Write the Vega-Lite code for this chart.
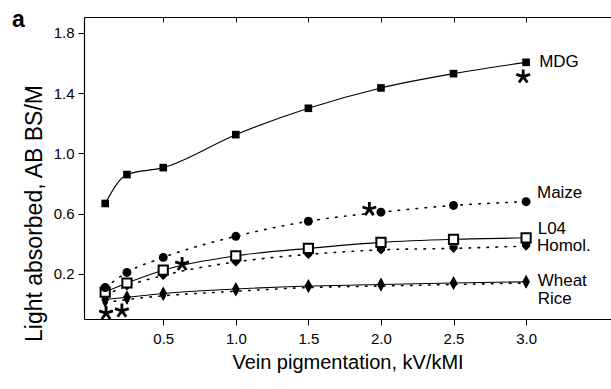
{
  "$schema": "https://vega.github.io/schema/vega-lite/v6.json",
  "width": 527,
  "height": 302,
  "autosize": {"type": "none"},
  "padding": {"left": 84, "top": 17, "right": 0, "bottom": 70},
  "background": "white",
  "config": {
    "view": {"stroke": null},
    "font": "Liberation Sans",
    "axis": {"grid": false, "domainColor": "black", "tickColor": "black", "labelColor": "black", "titleColor": "black", "labelFont": "Liberation Sans", "titleFont": "Liberation Sans", "titleFontWeight": "normal", "domainWidth": 1.2, "tickWidth": 1}
  },
  "title": {"text": "a", "anchor": "start", "frame": "group", "dx": -72, "offset": 0, "dy": 33, "baseline": "alphabetic", "fontSize": 23, "fontWeight": "bold", "font": "Liberation Sans", "color": "black"},
  "resolve": {"axis": {"x": "independent"}, "scale": {"x": "shared", "y": "shared"}},
  "datasets": {
    "series": [
      {"s": "MDG", "x": 0.1, "y": 0.668}, {"s": "MDG", "x": 0.25, "y": 0.86}, {"s": "MDG", "x": 0.5, "y": 0.906}, {"s": "MDG", "x": 1.0, "y": 1.125}, {"s": "MDG", "x": 1.5, "y": 1.30}, {"s": "MDG", "x": 2.0, "y": 1.435}, {"s": "MDG", "x": 2.5, "y": 1.53}, {"s": "MDG", "x": 3.0, "y": 1.605},
      {"s": "Maize", "x": 0.1, "y": 0.11}, {"s": "Maize", "x": 0.25, "y": 0.21}, {"s": "Maize", "x": 0.5, "y": 0.31}, {"s": "Maize", "x": 1.0, "y": 0.45}, {"s": "Maize", "x": 1.5, "y": 0.55}, {"s": "Maize", "x": 2.0, "y": 0.61}, {"s": "Maize", "x": 2.5, "y": 0.655}, {"s": "Maize", "x": 3.0, "y": 0.68},
      {"s": "L04", "x": 0.1, "y": 0.08}, {"s": "L04", "x": 0.25, "y": 0.14}, {"s": "L04", "x": 0.5, "y": 0.225}, {"s": "L04", "x": 1.0, "y": 0.32}, {"s": "L04", "x": 1.5, "y": 0.37}, {"s": "L04", "x": 2.0, "y": 0.41}, {"s": "L04", "x": 2.5, "y": 0.43}, {"s": "L04", "x": 3.0, "y": 0.44},
      {"s": "Homol.", "x": 0.1, "y": 0.06}, {"s": "Homol.", "x": 0.25, "y": 0.12}, {"s": "Homol.", "x": 0.5, "y": 0.19}, {"s": "Homol.", "x": 1.0, "y": 0.28}, {"s": "Homol.", "x": 1.5, "y": 0.33}, {"s": "Homol.", "x": 2.0, "y": 0.36}, {"s": "Homol.", "x": 2.5, "y": 0.37}, {"s": "Homol.", "x": 3.0, "y": 0.385},
      {"s": "Wheat", "x": 0.1, "y": 0.03}, {"s": "Wheat", "x": 0.25, "y": 0.045}, {"s": "Wheat", "x": 0.5, "y": 0.07}, {"s": "Wheat", "x": 1.0, "y": 0.10}, {"s": "Wheat", "x": 1.5, "y": 0.12}, {"s": "Wheat", "x": 2.0, "y": 0.13}, {"s": "Wheat", "x": 2.5, "y": 0.14}, {"s": "Wheat", "x": 3.0, "y": 0.148},
      {"s": "Rice", "x": 0.1, "y": 0.01}, {"s": "Rice", "x": 0.25, "y": 0.03}, {"s": "Rice", "x": 0.5, "y": 0.055}, {"s": "Rice", "x": 1.0, "y": 0.085}, {"s": "Rice", "x": 1.5, "y": 0.11}, {"s": "Rice", "x": 2.0, "y": 0.12}, {"s": "Rice", "x": 2.5, "y": 0.13}, {"s": "Rice", "x": 3.0, "y": 0.14}
    ],
    "stars": [
      {"x": 0.106, "y": -0.06}, {"x": 0.215, "y": -0.045}, {"x": 0.63, "y": 0.265}, {"x": 1.92, "y": 0.63}, {"x": 2.98, "y": 1.51}
    ],
    "labels": [
      {"t": "MDG", "x": 3.09, "y": 1.605}, {"t": "Maize", "x": 3.075, "y": 0.735}, {"t": "L04", "x": 3.08, "y": 0.5}, {"t": "Homol.", "x": 3.075, "y": 0.385}, {"t": "Wheat", "x": 3.08, "y": 0.155}, {"t": "Rice", "x": 3.08, "y": 0.035}
    ]
  },
  "encoding": {
    "x": {"field": "x", "type": "quantitative", "scale": {"domain": [-0.046, 3.585], "nice": false, "zero": false}, "axis": null},
    "y": {"field": "y", "type": "quantitative", "scale": {"domain": [-0.099, 1.906], "nice": false, "zero": false}, "axis": {"orient": "left", "values": [0.2, 0.6, 1.0, 1.4, 1.8], "format": ".1f", "tickSize": 6, "labelFontSize": 15, "labelPadding": 4, "title": "Light absorbed, AB BS/M", "titleFontSize": 23, "titlePadding": 7, "titleY": 196}}
  },
  "layer": [
    {
      "data": {"name": "series"},
      "transform": [{"filter": "datum.s === 'MDG' || datum.s === 'L04' || datum.s === 'Wheat'"}],
      "mark": {"type": "line", "interpolate": "monotone", "color": "black", "strokeWidth": 1.1},
      "encoding": {
        "detail": {"field": "s"},
        "x": {"field": "x", "type": "quantitative", "axis": {"orient": "bottom", "values": [0.5, 1.0, 1.5, 2.0, 2.5, 3.0], "format": ".1f", "tickSize": 6, "labelFontSize": 15, "labelPadding": 6, "title": "Vein pigmentation, kV/kMI", "titleFontSize": 20, "titlePadding": 6}}
      }
    },
    {
      "data": {"name": "series"},
      "transform": [{"filter": "datum.s === 'Maize' || datum.s === 'Homol.' || datum.s === 'Rice'"}],
      "mark": {"type": "line", "interpolate": "monotone", "color": "black", "strokeWidth": 1.6, "strokeDash": [1.5, 7.5], "strokeCap": "round"},
      "encoding": {
        "detail": {"field": "s"},
        "x": {"field": "x", "type": "quantitative", "axis": {"orient": "top", "values": [0.5, 1.0, 1.5, 2.0, 2.5, 3.0], "labels": false, "tickSize": -5, "title": null}}
      }
    },
    {
      "data": {"name": "series"},
      "transform": [{"filter": "datum.s === 'Rice'"}],
      "mark": {"type": "point", "shape": "M0,-1L0.55,0L0,1L-0.55,0Z", "filled": true, "color": "black", "size": 110, "opacity": 1}
    },
    {
      "data": {"name": "series"},
      "transform": [{"filter": "datum.s === 'Wheat'"}],
      "mark": {"type": "point", "shape": "M0,-1L0.55,0L0,1L-0.55,0Z", "filled": true, "color": "black", "size": 200, "opacity": 1}
    },
    {
      "data": {"name": "series"},
      "transform": [{"filter": "datum.s === 'Homol.'"}],
      "mark": {"type": "point", "shape": "M-0.8,-0.6L0.8,-0.6L0.8,0.1L0,0.9L-0.8,0.1Z", "filled": true, "color": "black", "size": 105, "opacity": 1}
    },
    {
      "data": {"name": "series"},
      "transform": [{"filter": "datum.s === 'L04'"}],
      "mark": {"type": "point", "shape": "square", "filled": true, "fill": "white", "stroke": "black", "strokeWidth": 2, "size": 85, "opacity": 1}
    },
    {
      "data": {"name": "series"},
      "transform": [{"filter": "datum.s === 'Maize'"}],
      "mark": {"type": "point", "shape": "circle", "filled": true, "color": "black", "size": 80, "opacity": 1}
    },
    {
      "data": {"name": "series"},
      "transform": [{"filter": "datum.s === 'MDG'"}],
      "mark": {"type": "point", "shape": "square", "filled": true, "color": "black", "size": 58, "opacity": 1}
    },
    {
      "data": {"name": "stars"},
      "mark": {"type": "point", "shape": "M0,0L0,-1M0,0L0.951,-0.309M0,0L0.588,0.809M0,0L-0.588,0.809M0,0L-0.951,-0.309", "filled": false, "stroke": "black", "strokeWidth": 2.8, "size": 210, "opacity": 1}
    },
    {
      "data": {"name": "labels"},
      "mark": {"type": "text", "align": "left", "baseline": "middle", "fontSize": 17, "font": "Liberation Sans", "color": "black"},
      "encoding": {"text": {"field": "t"}}
    }
  ]
}
